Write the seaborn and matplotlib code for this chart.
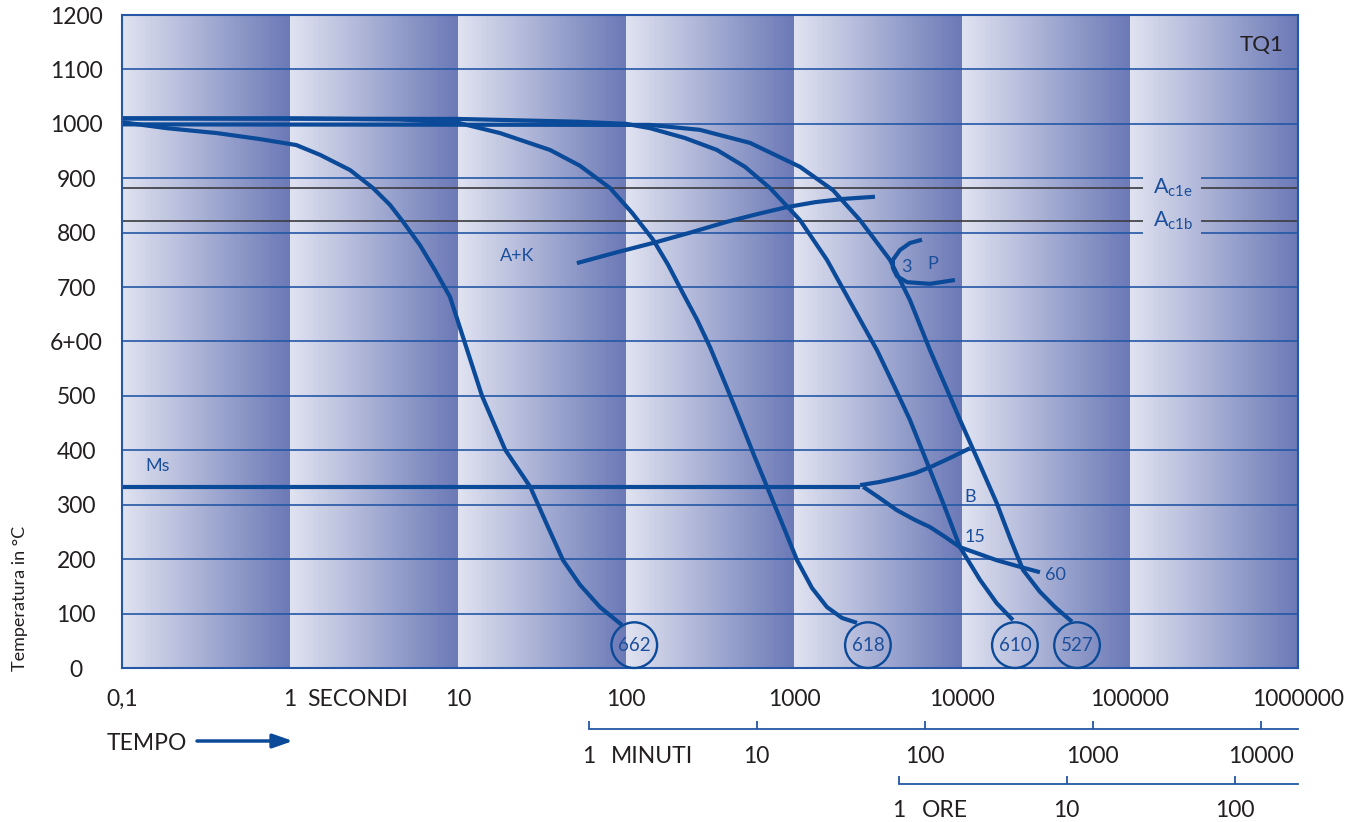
import numpy as np
import pandas as pd
import matplotlib
matplotlib.use("Agg")
import matplotlib.pyplot as plt
import matplotlib.transforms as mtransforms
from matplotlib.colors import LinearSegmentedColormap
from matplotlib.ticker import NullLocator
import seaborn as sns

# --- axis ticks ---
temp_ticks = [0, 100, 200, 300, 400, 500, 600, 700, 800, 900, 1000, 1100, 1200]
temp_labels = ["0", "100", "200", "300", "400", "500", "6+00", "700", "800",
               "900", "1000", "1100", "1200"]
sec_ticks = [0.1, 1, 10, 100, 1000, 10000, 100000, 1000000]
sec_labels = ["0,1", "1", "10", "100", "1000", "10000", "100000", "1000000"]
min_ticks = [1, 10, 100, 1000, 10000]
hour_ticks = [1, 10, 100]
SEC_PER_MIN = 60
SEC_PER_HOUR_DRAWN = 4200   # hour scale as drawn on the original sheet

# --- critical temperatures ---
ac1e = 882
ac1b = 821
ms_temp = 333

# --- cooling curves (time in s, temperature in C) ---
c662_t = [0.1, 0.185, 0.367, 0.662, 1.09, 1.51, 2.28, 3.12, 3.94, 4.71, 5.94, 7.30,
          8.96, 11.0, 13.9, 19.1, 26.9, 33.9, 42.2, 53.2, 70.0, 94.6]
c662_T = [1003, 992, 983, 972, 961, 943, 915, 882, 851, 820, 777, 731,
          682, 597, 500, 401, 333, 263, 198, 153, 112, 79]

c618_t = [0.1, 1.09, 4.52, 10, 17.8, 35.3, 53.2, 80.4, 109, 145, 178, 218, 265, 316,
          388, 477, 571, 691, 849, 1043, 1280, 1571, 1931, 2371]
c618_T = [1010, 1010, 1008, 1002, 983, 952, 923, 882, 836, 787, 741, 689, 640, 590,
          524, 456, 395, 333, 266, 198, 147, 112, 92, 83]

c610_t = [0.1, 10, 50, 100, 139, 224, 348, 511, 720, 1086, 1571, 2213, 3120, 3990,
          4900, 6450, 7930, 9730, 12800, 16100, 20100]
c610_T = [1010, 1009, 1004, 1000, 992, 974, 952, 921, 882, 823, 750, 667, 584, 515,
          456, 364, 294, 222, 162, 119, 88]

c527_t = [0.1, 139, 275, 547, 1086, 1708, 2472, 3726, 4900, 6450, 7930, 9730, 12800,
          16100, 19300, 23100, 29100, 35800, 45200]
c527_T = [999, 998, 989, 965, 921, 878, 823, 750, 676, 584, 520, 456, 373,
          303, 239, 180, 140, 112, 85]

# --- transformation lines ---
ak_t = [51.0, 88.3, 153, 247, 399, 602, 908, 1334, 1960, 3034]
ak_T = [744, 764, 783, 801, 820, 834, 847, 856, 862, 866]

p_t = [5780, 4900, 4270, 3880, 3880, 4100, 4710, 6450, 9080]
p_T = [787, 781, 768, 750, 735, 720, 709, 706, 713]

ms_t = [0.1, 2472]
ms_T = [ms_temp, ms_temp]

b_up_t = [2472, 3250, 4100, 5250, 6450, 8490, 11170]
b_up_T = [336, 342, 349, 358, 369, 386, 404]

b_low_t = [2580, 3250, 4100, 5250, 6450, 7930, 9730, 12800, 16100, 22100, 29100]
b_low_T = [333, 312, 290, 272, 259, 241, 222, 209, 198, 186, 176]

# --- hardness circles ---
hv_labels = ["662", "618", "610", "527"]
hv_t = [112, 2754, 20650, 48400]
hv_T = [42, 42, 42, 42]

BLUE = "#0b4a98"
GRID = "#2457a6"
TXT_BLUE = "#1b4f9c"
BLACK = "#231f20"

sns.set_theme(style="white")
plt.rcParams["font.family"] = ["Lato", "DejaVu Sans"]
plt.rcParams["mathtext.fontset"] = "custom"
plt.rcParams["mathtext.rm"] = "Lato"
plt.rcParams["mathtext.it"] = "Lato"

fig = plt.figure(figsize=(13.69, 8.22), dpi=100)
ax = fig.add_axes([122 / 1369, 1 - 668 / 822, 1176 / 1369, 653 / 822])
ax.set_xscale("log")
ax.set_xlim(0.1, 1e6)
ax.set_ylim(0, 1200)

# decade bands with light-to-dark gradient
cmap = LinearSegmentedColormap.from_list("band", ["#e0e2f0", "#6b79b6"])
edges = np.logspace(-1, 6, 7 * 120 + 1)
mids = np.sqrt(edges[:-1] * edges[1:])
frac = (np.log10(mids) + 1) % 1
ax.pcolormesh(edges, [0, 1200], frac[np.newaxis, :], cmap=cmap,
              shading="flat", zorder=0, rasterized=True)

# horizontal grid
gap_lo, gap_hi = 119400, 265000
full = [t for t in temp_ticks[1:-1] if t not in (800, 900)]
ax.hlines(full, 0.1, 1e6, color=GRID, lw=1.2, zorder=1)
for y in (800, 900):
    ax.hlines(y, 0.1, gap_lo, color=GRID, lw=1.2, zorder=1)
    ax.hlines(y, gap_hi, 1e6, color=GRID, lw=1.2, zorder=1)
for y in (ac1e, ac1b):
    ax.hlines(y, 0.1, gap_lo, color="#3b3b3f", lw=1.2, zorder=1)
    ax.hlines(y, gap_hi, 1e6, color="#3b3b3f", lw=1.2, zorder=1)

# all lines through seaborn
parts = [("662", c662_t, c662_T), ("618", c618_t, c618_T), ("610", c610_t, c610_T),
         ("527", c527_t, c527_T), ("ak", ak_t, ak_T), ("p", p_t, p_T),
         ("ms", ms_t, ms_T), ("bup", b_up_t, b_up_T), ("blow", b_low_t, b_low_T)]
df = pd.concat([pd.DataFrame({"t": t, "T": T, "curve": name}) for name, t, T in parts])
sns.lineplot(data=df, x="t", y="T", units="curve", estimator=None, sort=False,
             color=BLUE, lw=3.0, ax=ax, zorder=3, legend=False)
for line in ax.lines:
    line.set_solid_joinstyle("round")
    line.set_solid_capstyle("butt")

# hardness circles
ax.scatter(hv_t, hv_T, s=1080, facecolors="none", edgecolors=BLUE,
           linewidths=1.7, clip_on=False, zorder=5)
for lab, t, T in zip(hv_labels, hv_t, hv_T):
    ax.text(t, T, lab, color=TXT_BLUE, fontsize=13.5, ha="center", va="center", zorder=6)

# in-plot labels
lbl = dict(color=TXT_BLUE, fontsize=13, ha="center", va="center")
ax.text(0.164, 371, "Ms", **lbl)
ax.text(22.4, 757, "A+K", **lbl)
ax.text(4640, 737, "3", **lbl)
ax.text(6720, 742, "P", **lbl)
ax.text(11170, 314, "B", **lbl)
ax.text(11950, 241, "15", **lbl)
ax.text(35800, 171, "60", **lbl)
ax.text(137000, ac1e, r"A$_{\mathrm{c1e}}$", color=TXT_BLUE, fontsize=15.5,
        ha="left", va="center")
ax.text(137000, ac1b, r"A$_{\mathrm{c1b}}$", color=TXT_BLUE, fontsize=15.5,
        ha="left", va="center")
ax.text(815000, 1145, "TQ1", color=BLACK, fontsize=16, ha="right", va="center")

# spines
for sp in ax.spines.values():
    sp.set_color(GRID)
    sp.set_linewidth(1.5)
    sp.set_zorder(4)

# y axis
ax.set_yticks(temp_ticks, labels=temp_labels)
ax.tick_params(axis="y", length=0, pad=33, labelsize=16.5, labelcolor=BLACK)
for lab in ax.get_yticklabels():
    lab.set_horizontalalignment("center")
fig.text(20 / 1369, 1 - 598 / 822, "Temperatura in °C", rotation=90,
         ha="center", va="center", fontsize=13, color=BLACK)

# x axis (seconds)
ax.set_xticks(sec_ticks, labels=sec_labels)
ax.xaxis.set_minor_locator(NullLocator())
ax.tick_params(axis="x", which="both", length=0, pad=27, labelsize=16.5, labelcolor=BLACK)
for lab in ax.get_xticklabels():
    lab.set_verticalalignment("baseline")
ax.set_xlabel("")
ax.set_ylabel("")
blend = mtransforms.blended_transform_factory(ax.transData, ax.transAxes)
ax.text(1.27, (668 - 706) / 653, "SECONDI", transform=blend, ha="left",
        va="baseline", fontsize=16.5, color=BLACK)

# minutes axis
sec_min = ax.secondary_xaxis((668 - 729) / 653,
                             functions=(lambda s: s / SEC_PER_MIN, lambda m: m * SEC_PER_MIN))
sec_min.set_xticks(min_ticks, labels=[str(v) for v in min_ticks])
sec_min.xaxis.set_minor_locator(NullLocator())
sec_min.spines["bottom"].set_bounds(1, 1e6 / SEC_PER_MIN)
sec_min.spines["bottom"].set_color(GRID)
sec_min.spines["bottom"].set_linewidth(1.3)
sec_min.tick_params(axis="x", direction="in", length=6, width=1.3, color=GRID,
                    pad=24.5, labelsize=16.5, labelcolor=BLACK)
for lab in sec_min.get_xticklabels():
    lab.set_verticalalignment("baseline")
ax.text(81.5, (668 - 763) / 653, "MINUTI", transform=blend, ha="left",
        va="baseline", fontsize=16.5, color=BLACK)

# hours axis
sec_hr = ax.secondary_xaxis((668 - 784) / 653,
                            functions=(lambda s: s / SEC_PER_HOUR_DRAWN,
                                       lambda h: h * SEC_PER_HOUR_DRAWN))
sec_hr.set_xticks(hour_ticks, labels=[str(v) for v in hour_ticks])
sec_hr.xaxis.set_minor_locator(NullLocator())
sec_hr.spines["bottom"].set_bounds(1, 1e6 / SEC_PER_HOUR_DRAWN)
sec_hr.spines["bottom"].set_color(GRID)
sec_hr.spines["bottom"].set_linewidth(1.3)
sec_hr.tick_params(axis="x", direction="in", length=6, width=1.3, color=GRID,
                   pad=24, labelsize=16.5, labelcolor=BLACK)
for lab in sec_hr.get_xticklabels():
    lab.set_verticalalignment("baseline")
ax.text(5755, (668 - 817) / 653, "ORE", transform=blend, ha="left",
        va="baseline", fontsize=16.5, color=BLACK)

# TEMPO arrow
fig.text(107 / 1369, (822 - 750) / 822, "TEMPO", ha="left", va="baseline",
         fontsize=16.5, color=BLACK)
ax.annotate("", xy=(293 / 1369, (822 - 741) / 822), xytext=(197 / 1369, (822 - 741) / 822),
            xycoords="figure fraction", textcoords="figure fraction",
            arrowprops=dict(arrowstyle="-|>,head_length=1.0,head_width=0.35",
                            color=BLUE, lw=2.5, shrinkA=0, shrinkB=0))

fig.savefig("out.png", dpi=100)
